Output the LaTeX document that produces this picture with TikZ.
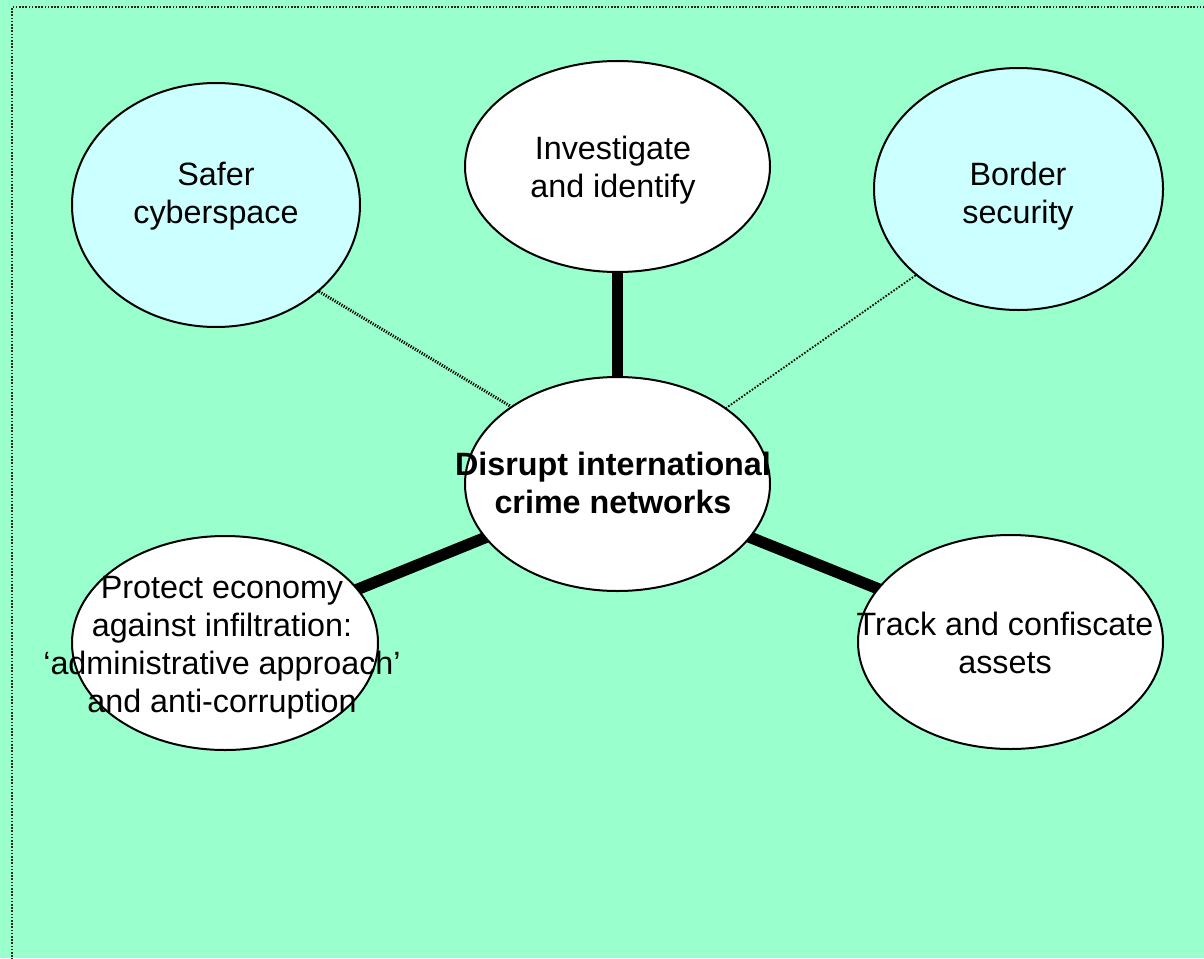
\documentclass[tikz,border=0pt]{standalone}
\usepackage{fontspec}
\setmainfont{Liberation Sans}
\usetikzlibrary{shapes.geometric}
\definecolor{bggreen}{HTML}{99FFCC}
\definecolor{paleblue}{HTML}{CCFFFF}
\pgfdeclarelayer{bglayer}
\pgfdeclarelayer{linelayer}
\pgfsetlayers{bglayer,linelayer,main}
\tikzset{
  oval/.style={ellipse, draw=black, line width=2pt, inner sep=0pt, fill=white},
  blueoval/.style={oval, fill=paleblue},
  lbl/.style={align=center, anchor=base, inner sep=0pt, font=\fontsize{32.3}{38}\selectfont},
  thickcon/.style={line width=11.5pt},
  dotcon/.style={line width=3pt, dash pattern=on 1.2pt off 1.4pt},
  finedot/.style={line width=1.8pt, dash pattern=on 1.6pt off 1.6pt},
  frame/.style={line width=1.6pt, dash pattern=on 1.6pt off 1.6pt, black!85}
}
\begin{document}
\begin{tikzpicture}[x=1pt, y=-1pt]
\useasboundingbox (0,0) rectangle (1204,958);
\begin{pgfonlayer}{bglayer}
  \fill[bggreen] (0,0) rectangle (1204,958);
  \draw[frame] (12,960) -- (12,7) -- (1206,7);
\end{pgfonlayer}

\node[blueoval, minimum width=288pt, minimum height=244pt] (saf) at (216,205) {};
\node[oval, minimum width=305pt, minimum height=211pt] (inv) at (617.5,166.5) {};
\node[blueoval, minimum width=289pt, minimum height=242pt] (bor) at (1018.5,189) {};
\node[oval, minimum width=305pt, minimum height=214pt] (ctr) at (617.5,484) {};
\node[oval, minimum width=306pt, minimum height=214pt] (pro) at (225,643) {};
\node[oval, minimum width=305pt, minimum height=214pt] (trk) at (1010.5,642) {};

\begin{pgfonlayer}{linelayer}
  \draw[thickcon] (ctr.center) -- (inv.center);
  \draw[thickcon] (ctr.center) -- (pro.center);
  \draw[thickcon] (ctr.center) -- (trk.center);
  \draw[dotcon] (saf.-40.4) -- (ctr.144.4);
  \draw[finedot] (bor.220.4) -- (ctr.35.5);
\end{pgfonlayer}

\node[lbl] (tsaf) at (216,223) {Safer\\cyberspace};
\node[lbl] (tinv) at (613,197) {Investigate\\and identify};
\node[lbl] (tbor) at (1018,223) {Border\\security};
\node[lbl, font=\fontsize{32.3}{38}\selectfont\bfseries] (tctr) at (613,513) {Disrupt international\\crime networks};
\node[lbl] (tpro) at (222,712) {Protect economy\\against infiltration:\\‘administrative approach’\\and anti-corruption};
\node[lbl] (ttrk) at (1005,673) {Track and confiscate\\assets};
\end{tikzpicture}
\end{document}
